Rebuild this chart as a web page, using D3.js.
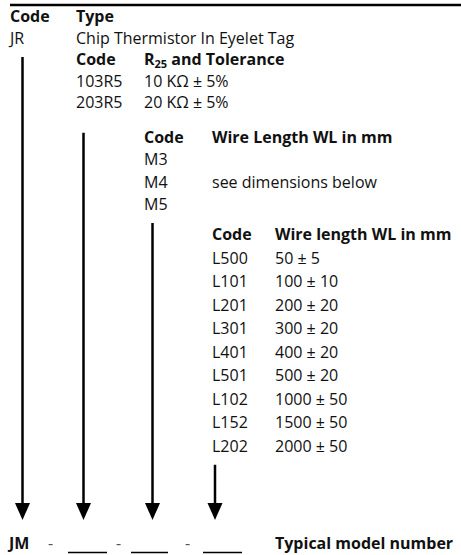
<!DOCTYPE html>
<html><head><meta charset="utf-8">
<script src="https://cdn.jsdelivr.net/npm/d3@7"></script>
<style>body{margin:0;background:#fff}svg{display:block}</style>
</head><body><div id="c"></div>
<script>
// ---- data ----
const headerRows = [
  {row:0, col:0, code:"Code", desc:"Type", bold:true},
  {row:1, col:0, code:"JR", desc:"Chip Thermistor In Eyelet Tag", bold:false},
  {row:2, col:1, code:"Code", desc:"R|25| and Tolerance", bold:true},
  {row:3, col:1, code:"103R5", desc:"10 KΩ ± 5%", bold:false},
  {row:4, col:1, code:"203R5", desc:"20 KΩ ± 5%", bold:false},
  {row:5, col:2, code:"Code", desc:"Wire Length WL in mm", bold:true},
  {row:6, col:2, code:"M3", desc:"", bold:false},
  {row:7, col:2, code:"M4", desc:"see dimensions below", bold:false},
  {row:8, col:2, code:"M5", desc:"", bold:false},
  {row:9, col:3, code:"Code", desc:"Wire length WL in mm", bold:true}
];
const lengthCodes = ["L500","L101","L201","L301","L401","L501","L102","L152","L202"];
const lengthValues = ["50 ± 5","100 ± 10","200 ± 20","300 ± 20","400 ± 20","500 ± 20","1000 ± 50","1500 ± 50","2000 ± 50"];
const modelParts = ["JM","-","____","-","____","-","____"];
const modelLabel = "Typical model number";
// arrows: column index, row where line starts (fractional)
const arrows = [
  {col:0, startRow:1.63},
  {col:1, startRow:4.71},
  {col:2, startRow:8.43},
  {col:3, startRow:18.3}
];

const W = 461, H = 555;
const svg = d3.select("#c").append("svg").attr("width", W).attr("height", H);
const FONT = "'Open Sans', 'Noto Sans', sans-serif";
const FS = 16;

// row index -> baseline y (piecewise)
const y = d3.scaleLinear().domain([0,4,5,8,9,18,19.6]).range([22,108,143,210,240,452,520]);
// column index -> code x / desc x
const codeX = d3.scaleOrdinal().domain([0,1,2,3,4]).range([10,76,144,212,275]);
const arrowX = d3.scaleOrdinal().domain([0,1,2,3]).range([22.5,83.5,152.5,215]);

// top rule
svg.append("line").attr("x1",10).attr("x2",W).attr("y1",5).attr("y2",5)
  .attr("stroke","#000").attr("stroke-width",2.5);

const allRows = headerRows.concat(lengthCodes.map((c,i)=>({row:10+i, col:3, code:c, desc:lengthValues[i], bold:false})));

const g = svg.append("g").attr("font-family", FONT).attr("font-size", FS).attr("fill","#111");
allRows.forEach(r => {
  g.append("text").attr("x", codeX(r.col)).attr("y", y(r.row))
    .attr("font-weight", r.bold ? 700 : 400).text(r.code);
  if (r.desc) {
    const t = g.append("text").attr("x", codeX(r.col+1)).attr("y", y(r.row))
      .attr("font-weight", r.bold ? 700 : 400);
    const parts = r.desc.split("|");
    parts.forEach((p,i) => {
      if (i === 1) t.append("tspan").attr("font-size", 11).attr("dy", 3).text(p);
      else if (i === 2) t.append("tspan").attr("dy", -3).text(p);
      else t.append("tspan").text(p);
    });
  }
});

// arrows
arrows.forEach(a => {
  const x = arrowX(a.col);
  const y0 = y(a.startRow), tip = y(19.6), headTop = tip - 17;
  svg.append("line").attr("x1",x).attr("x2",x).attr("y1",y0).attr("y2",headTop+2)
    .attr("stroke","#000").attr("stroke-width",2.5);
  svg.append("path").attr("d", `M${x-7.5},${headTop} L${x+7.5},${headTop} L${x},${tip} Z`).attr("fill","#000");
});

// model number line
const modelX = [9,48,68,116,131,185,203];
const by = 549;
modelParts.forEach((p,i) => {
  if (p.startsWith("_")) {
    const w = [39,37,39][[2,4,6].indexOf(i)];
    svg.append("line").attr("x1", modelX[i]).attr("x2", modelX[i]+w).attr("y1", 552.5).attr("y2", 552.5)
      .attr("stroke","#000").attr("stroke-width",1.5);
  } else {
    svg.append("text").attr("x", modelX[i]).attr("y", by).attr("font-family", FONT)
      .attr("font-size", FS).attr("font-weight", p === "JM" ? 700 : 400)
      .attr("fill", p === "JM" ? "#111" : "#555").text(p);
  }
});
svg.append("text").attr("x", 275).attr("y", by).attr("font-family", FONT)
  .attr("font-size", FS).attr("font-weight", 700).attr("fill","#111").text(modelLabel);
</script></body></html>
